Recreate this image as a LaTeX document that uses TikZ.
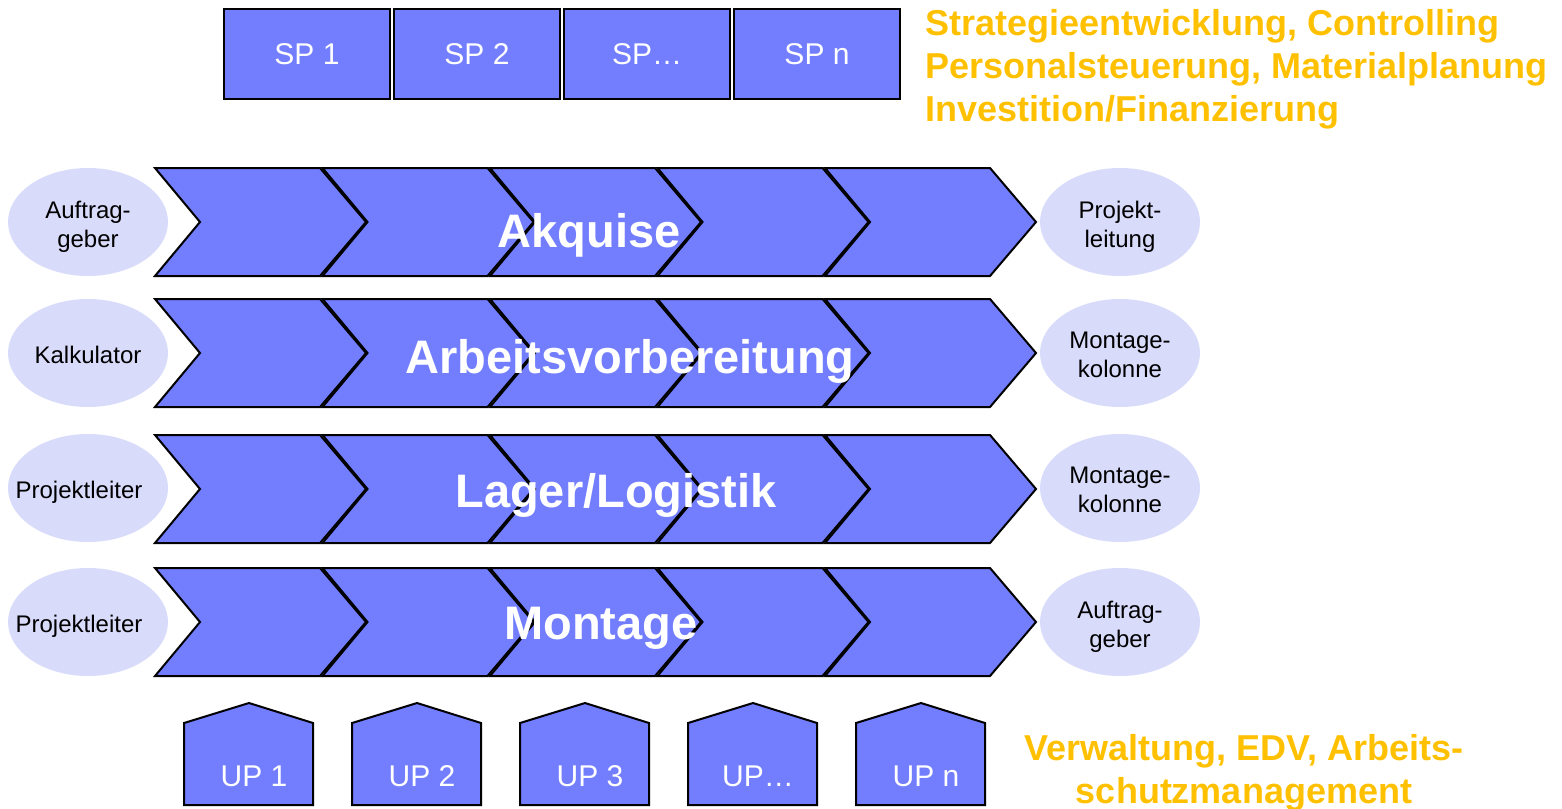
\documentclass[tikz,border=0pt]{standalone}
\usepackage{fontspec}
\setmainfont{Liberation Sans}
\usetikzlibrary{shapes.geometric}

\definecolor{procblue}{RGB}{115,126,255}
\definecolor{rolefill}{RGB}{217,219,251}
\definecolor{supportorange}{RGB}{255,192,0}

\tikzset{
	spbox/.style={draw=black, line width=2pt, fill=procblue, text=white, minimum width=166, minimum height=90, inner sep=0pt, font=\fontsize{30}{36}\selectfont},
	roletext/.style={align=center, inner sep=0pt, text depth=0pt, yshift=-2pt, font=\fontsize{24}{29}\selectfont},
	role/.style={ellipse, fill=rolefill, minimum width=160, minimum height=108, inner sep=0pt, label={[roletext]center:#1}},
	phase/.style={text=white, anchor=base, inner sep=0pt, font=\fontsize{47}{56}\bfseries\selectfont},
	support/.style={text=supportorange, inner sep=0pt, font=\fontsize{36}{43}\bfseries\selectfont},
	chevron/.style={draw=black, line width=2pt, fill=procblue, line join=miter},
	house/.style={draw=black, line width=2pt, fill=procblue},
	uplabel/.style={text=white, inner sep=0pt, font=\fontsize{30}{36}\selectfont}
}

\begin{document}
\begin{tikzpicture}[x=1pt,y=1pt,yscale=-1]
	\path[use as bounding box] (0,0) rectangle (1562,808);

	% strategic projects on top
	\foreach \lbl [count=\i from 0] in {SP 1, SP 2, SP…, SP n}
		\node[spbox] (sp\i) at (307+170*\i,54) {\lbl};
	% staff text
	\node[support, anchor=north west, align=left] (staff) at (925,9)
		{Strategieentwicklung, Controlling\\Personalsteuerung, Materialplanung\\Investition/Finanzierung};

	% process rows, five chevrons each
	\foreach \yt in {168,299,435,568} {
		\foreach \k in {0,...,4} {
			\pgfmathsetmacro\xo{155+167.5*\k}
			\draw[chevron] (\xo,\yt) -- ++(165,0) -- ++(46,54) -- ++(-46,54) -- ++(-165,0) -- ++(45,-54) -- cycle;
		}
	}
	% Text Node
	\node[phase] (akquise) at (589,247) {Akquise};
	% Text Node
	\node[phase] (avorb) at (630,373) {Arbeitsvorbereitung};
	% Text Node
	\node[phase] (lager) at (616,507) {Lager/Logistik};
	% Text Node
	\node[phase] (montage) at (601,639) {Montage};

	% roles in front of each row
	\node[role={Auftrag-\\geber}] (in1) at (88,222) {};
	\node[role={Kalkulator}] (in2) at (88,353) {};
	\node[role={Projektleiter\hspace*{18pt}}] (in3) at (88,488) {};
	\node[role={Projektleiter\hspace*{18pt}}] (in4) at (88,622) {};
	% roles after each row
	\node[role={Projekt-\\leitung}] (out1) at (1120,222) {};
	\node[role={Montage-\\kolonne}] (out2) at (1120,353) {};
	\node[role={Montage-\\kolonne}] (out3) at (1120,488) {};
	\node[role={Auftrag-\\geber}] (out4) at (1120,622) {};

	% supporting processes at the bottom
	\foreach \lbl [count=\i from 0] in {UP 1, UP 2, UP 3, UP…, UP n} {
		\draw[house] (184+168*\i,805) -- ++(0,-82) -- ++(65,-20) -- ++(64,20) -- ++(0,82) -- cycle;
		\node[uplabel] (up\i) at (254+168*\i,776) {\lbl};
	}
	% service text
	\node[support, anchor=north, align=center] (service) at (1244,734)
		{Verwaltung, EDV, Arbeits-\\schutzmanagement};
\end{tikzpicture}
\end{document}
